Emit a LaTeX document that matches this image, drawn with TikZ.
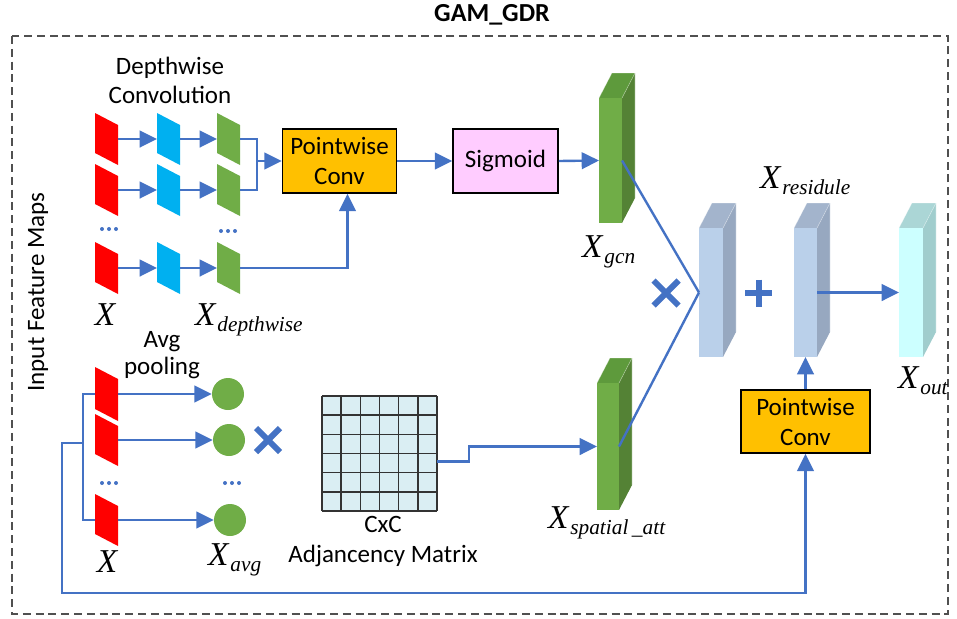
\documentclass[tikz,border=0pt]{standalone}
\usepackage{fontspec}
\setmainfont{Carlito}
\newfontfamily\tnr{Liberation Serif}
\usetikzlibrary{arrows.meta,calc}

\definecolor{lineblue}{HTML}{4472C4}
\definecolor{fmred}{HTML}{FF0000}
\definecolor{fmcyan}{HTML}{00B0F0}
\definecolor{fmgreen}{HTML}{70AD47}
\definecolor{gside}{HTML}{548235}
\definecolor{gtop}{HTML}{5E9A3C}
\definecolor{boxorange}{HTML}{FFC000}
\definecolor{boxpink}{HTML}{FFCCFF}
\definecolor{lbfront}{HTML}{BAD0EA}
\definecolor{lbside}{HTML}{97A8C0}
\definecolor{lbtop}{HTML}{A3B4CC}
\definecolor{cyfront}{HTML}{CCFFFF}
\definecolor{cyside}{HTML}{A0CDCD}
\definecolor{cytop}{HTML}{ABD6D6}
\definecolor{matfill}{HTML}{DAEEF3}
\definecolor{framegray}{HTML}{505050}

% slanted feature map: #1 node name, #2 colour
\newcommand\fmap[2]{%
  \fill[#2] (#1.north west) -- ($(#1.north east)+(0,12)$) -- (#1.south east)
    -- ($(#1.south west)+(0,-12)$) -- cycle;}
% feature block with depth: #1 node (front face), #2 front, #3 side, #4 top
\newcommand\slab[4]{%
  \fill[#3] (#1.north east) -- ++(13,-25) -- ($(#1.south east)+(13,-25)$) -- (#1.south east) -- cycle;
  \fill[#4] (#1.north west) -- ++(13,-25) -- ($(#1.north east)+(13,-25)$) -- (#1.north east) -- cycle;
  \fill[#2] (#1.north west) rectangle (#1.south east);
  \draw[white,opacity=0.35,line width=0.5pt] (#1.north west) -- ++(13,-25) -- ($(#1.north east)+(13,-25)$)
    -- ($(#1.south east)+(13,-25)$);
  \draw[white,opacity=0.35,line width=0.5pt] (#1.north east) -- ++(13,-25);}
% ellipsis of three dots around a node
\newcommand\elide[1]{%
  \fill[lineblue] (#1.west) circle[radius=2] (#1.center) circle[radius=2] (#1.east) circle[radius=2];}
% symbol-style subscripted labels
\newcommand\xsub[1]{{\tnr\itshape\fontsize{25}{25}\selectfont X}\kern1.5pt\raisebox{-4.5pt}{\tnr\itshape\fontsize{16}{16}\selectfont #1}}
\newcommand\xonly{{\tnr\itshape\fontsize{25}{25}\selectfont X}}

\tikzset{
  every node/.style={font=\fontsize{18.75}{22.5}\selectfont},
  hull/.style 2 args={inner sep=0pt, outer sep=0pt, minimum width={#1*0.75pt}, minimum height={#2*0.75pt}},
  ln/.style={draw=lineblue, line width=1.8pt},
  arr/.style={ln, -{Triangle[length=13pt,width=12.5pt]}},
  opbox/.style 2 args={draw=black, line width=1.3pt, align=center, inner sep=0pt,
    minimum width={#1*0.75pt}, minimum height={#2*0.75pt}},
  lab/.style={inner sep=0pt, outer sep=0pt},
  opsym/.style={hull={#1}{#1}},
}

\begin{document}
\begin{tikzpicture}[x=0.75pt,y=-0.75pt]
\useasboundingbox (0,0) rectangle (957,618);

% outer module frame
\draw[framegray, line width=1.1pt, dash pattern=on 6pt off 3.6pt] (12,36) rectangle (948,614);
\node[lab, font=\fontsize{19.5}{22}\selectfont\bfseries] (title) at (492,15) {GAM\_GDR};
\node[lab, rotate=90] (ifm) at (38,292) {Input Feature Maps};

% ---------- depthwise branch ----------
\node[lab, align=center, font=\fontsize{18.75}{21.75}\selectfont] (dwlab) at (170,80) {Depthwise\\Convolution};
\foreach \n/\y in {1/139, 2/190, 3/268} {
  \node[hull={23}{52}] (r\n) at (106.5,\y) {};
  \node[hull={23}{52}] (b\n) at (168.5,\y) {};
  \node[hull={23}{52}] (g\n) at (228.5,\y) {};
  \fmap{r\n}{fmred}
  \fmap{b\n}{fmcyan}
  \fmap{g\n}{fmgreen}
  \draw[arr] (r\n.east) -- (b\n.west);
  \draw[arr] (b\n.east) -- (g\n.west);
}
\node[hull={14}{4}] (d1) at (109,229) {};
\node[hull={14}{4}] (d2) at (228,231) {};
\elide{d1}
\elide{d2}

\node[opbox={114}{64}, fill=boxorange] (pw1) at (339.5,161) {Pointwise\\Conv};
\node[opbox={105}{64}, fill=boxpink] (sig) at (505.5,161) {Sigmoid};

\coordinate (mg) at (257,161);
\draw[ln] (g1.east) -| (mg);
\draw[ln] (g2.east) -| (mg);
\draw[arr] (mg) -- (pw1.west);
\draw[arr] (g3.east) -| ($(pw1.south)+(8,0)$);
\draw[arr] (pw1.east) -- (sig.west);

\node[lab, anchor=base] (xin1) at (105,325) {\xonly};
\node[lab, anchor=base west] (xdw) at (195,325) {\xsub{depthwise}};

% ---------- spatial branch ----------
\node[lab, align=center, font=\fontsize{18.75}{20.25}\selectfont] (avglab) at (162,355) {Avg\\pooling};
\node[hull={23}{54}] (q1) at (106.5,394) {};
\node[hull={23}{52}] (q2) at (106.5,440) {};
\node[hull={23}{52}] (q3) at (106.5,520) {};
\fmap{q1}{fmred}
\fmap{q2}{fmred}
\fmap{q3}{fmred}
\node[circle, fill=fmgreen, inner sep=0pt, minimum size={32*0.75pt}] (c1) at (228,394) {};
\node[circle, fill=fmgreen, inner sep=0pt, minimum size={32*0.75pt}] (c2) at (229,440) {};
\node[circle, fill=fmgreen, inner sep=0pt, minimum size={32*0.75pt}] (c3) at (230,520) {};
\draw[arr] (q1.east) -- (c1.west);
\draw[arr] (q2.east) -- (c2.west);
\draw[arr] (q3.east) -- (c3.west);
\node[hull={14}{4}] (d3) at (109,483) {};
\node[hull={14}{4}] (d4) at (232,483) {};
\elide{d3}
\elide{d4}

\node[opsym=24] (mul1) at (268,440) {};
\draw[lineblue, line width=4.5pt] (mul1.north west) -- (mul1.south east)
  (mul1.north east) -- (mul1.south west);

% adjacency matrix
\node[hull={115}{115}, fill=matfill] (mat) at (379.5,453.5) {};
\foreach \i in {0,...,6} {
  \draw[black!80, line width=1.1pt] ($(mat.north west)!{\i/6}!(mat.north east)$) -- ($(mat.south west)!{\i/6}!(mat.south east)$);
  \draw[black!80, line width=1.1pt] ($(mat.north west)!{\i/6}!(mat.south west)$) -- ($(mat.north east)!{\i/6}!(mat.south east)$);
}
\node[lab, align=center, font=\fontsize{18.75}{22.5}\selectfont] (matlab) at (383,542) {CxC\\Adjancency Matrix};

\node[lab, anchor=base] (xin2) at (107,572) {\xonly};
\node[lab, anchor=base west] (xavg) at (208,565) {\xsub{avg}};

% ---------- attention maps and fusion ----------
\node[hull={23}{125}] (gcn) at (610.5,160.5) {};
\node[hull={22}{127}] (sp) at (608,446.5) {};
\node[hull={24}{129}] (m1) at (711,292.5) {};
\node[hull={23}{129}] (m2) at (805.5,292.5) {};
\node[hull={24}{129}] (m3) at (911,292.5) {};
\slab{gcn}{fmgreen}{gside}{gtop}
\slab{sp}{fmgreen}{gside}{gtop}
\slab{m1}{lbfront}{lbside}{lbtop}
\slab{m2}{lbfront}{lbside}{lbtop}
\slab{m3}{cyfront}{cyside}{cytop}

\draw[arr] (sig.east) -- (gcn.west);
\draw[arr] ($(mat.east)+(0,8)$) -- ++(32,0) |- (sp.west);
\draw[ln] (gcn.east) -- (m1.west);
\draw[ln] (sp.east) -- (m1.west);
\draw[arr] (m2.east) -- (m3.west);

\node[opsym=25] (mul2) at (666,293) {};
\draw[lineblue, line width=4.5pt] (mul2.north west) -- (mul2.south east)
  (mul2.north east) -- (mul2.south west);
\node[opsym=27] (add) at (758.5,293) {};
\draw[lineblue, line width=4.5pt] (add.north) -- (add.south) (add.west) -- (add.east);

\node[opbox={129}{63}, fill=boxorange] (pw2) at (805.5,421.5) {Pointwise\\Conv};
\draw[arr] (pw2.north) -- (m2.south);

% residual path from the input maps
\coordinate (br1) at (83,394);
\coordinate (br3) at (83,520);
\coordinate (brm) at (83,443);
\coordinate (fb) at (62,443);
\coordinate (fbc) at (62,593);
\draw[ln] (q1.west) -| (br3) -- (q3.west);
\draw[arr] (brm) -- (fb) -- (fbc) -| (pw2.south);

\node[lab, anchor=base west] (xgcn) at (582,257) {\xsub{gcn}};
\node[lab, anchor=base west] (xsp) at (548,528) {\xsub{spatial\,\_att}};
\node[lab, anchor=base west] (xres) at (760,188) {\xsub{residule}};
\node[lab, anchor=base west] (xout) at (898,388) {\xsub{out}};
\end{tikzpicture}
\end{document}
